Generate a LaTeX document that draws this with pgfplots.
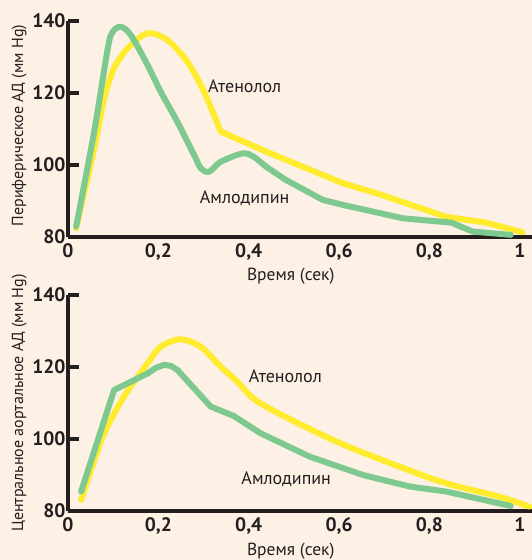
\documentclass[border=0pt]{standalone}
\usepackage{fontspec}
\setmainfont{PT Sans}
\usepackage{pgfplots}
\pgfplotsset{compat=1.18}
\definecolor{bg}{RGB}{253,240,228}
\definecolor{atn}{RGB}{255,236,46}
\definecolor{aml}{RGB}{125,201,143}
\definecolor{ink}{RGB}{35,31,32}

\pgfplotsset{panel/.style={
    scale only axis, width=464pt, height=216pt,
    xmin=0, xmax=1.027, ymin=80, ymax=140,
    axis lines*=left,
    axis line style={ink, line width=3.8pt},
    clip=false,
    xtick={0,0.2,0.4,0.6,0.8,1},
    xticklabels={0,{0,2},{0,4},{0,6},{0,8},1},
    ytick={80,100,120,140},
    tick align=inside, major tick length=11pt,
    ytick style={ink, line width=3.5pt},
    xtick style={draw=none},
    tick label style={ink, font=\bfseries\fontsize{19.5}{21}\selectfont},
    xticklabel style={yshift=-3pt},
    yticklabel style={xshift=1pt},
    /pgf/number format/assume math mode=true,
    xlabel style={ink, font=\fontsize{17.5}{19}\selectfont},
    ylabel style={ink, font=\fontsize{16}{18}\selectfont},
    every axis plot/.append style={line width=6pt, line join=round, line cap=round, no markers},
}}
\newcommand{\curvelabel}{\fontsize{18}{20}\selectfont}

\begin{document}
\begin{tikzpicture}
\fill[bg] (0,0) rectangle (532pt,560pt);
\path[use as bounding box] (0,0) rectangle (532pt,560pt);

% periferal
\begin{axis}[panel, at={(68pt,323pt)}, anchor=south west,
    xlabel={Время (сек)},
    xlabel style={at={(axis description cs:0.48,-0.18)}, anchor=center},
    ylabel={Периферическое АД (мм Hg)},
    ylabel style={at={(axis description cs:-0.105,0.516)}, anchor=center}]
% Atenolol
\addplot[atn, smooth, tension=0.5] coordinates {
 (0.018,82.4) (0.058,104.6) (0.080,118.5) (0.102,126.9) (0.132,132.4)
 (0.176,136.6) (0.220,134.7) (0.264,128.7) (0.301,120.4) (0.338,109.3)};
\addplot[atn] coordinates {
 (0.338,109.3) (0.439,103.7) (0.609,94.9) (0.689,91.9) (0.837,85.6)
 (0.925,84.0) (1.006,81.3)};
% Amlodipine
\addplot[aml, smooth, tension=0.5] coordinates {
 (0.018,82.9) (0.058,109.3) (0.088,132.4) (0.099,137.0) (0.117,138.4)
 (0.139,136.1) (0.176,127.8) (0.205,120.4) (0.242,112.0) (0.279,102.8)
 (0.294,99.1) (0.312,98.1) (0.338,100.9) (0.386,103.2) (0.411,102.3)
 (0.439,99.5) (0.483,95.8)};
\addplot[aml] coordinates {
 (0.483,95.8) (0.564,90.3) (0.609,88.9) (0.741,85.2) (0.848,84.0)
 (0.896,81.5) (0.980,80.6)};
\node[ink, font=\curvelabel] at (axis cs:0.391,121.9) {Атенолол};
\node[ink, font=\curvelabel] at (axis cs:0.391,90.8) {Амлодипин};
\end{axis}

% central aortic
\begin{axis}[panel, at={(68pt,49pt)}, anchor=south west,
    xlabel={Время (сек)},
    xlabel style={at={(axis description cs:0.48,-0.185)}, anchor=center},
    ylabel={Центральное аортальное АД (мм Hg)},
    ylabel style={at={(axis description cs:-0.105,0.5)}, anchor=center}]
% Atenolol
\addplot[atn, smooth, tension=0.5] coordinates {
 (0.029,83.1) (0.051,91.4) (0.080,101.6) (0.124,111.8) (0.176,121.0)
 (0.205,125.6) (0.249,127.7) (0.294,125.6) (0.338,120.1) (0.375,115.9)
 (0.426,109.9) (0.587,99.7) (0.734,92.3) (0.837,87.7) (0.954,84.0)
 (1.021,81.2)};
% Amlodipine
\addplot[aml] coordinates {
 (0.029,85.4) (0.102,113.6) (0.176,118.2) (0.195,119.8) (0.213,120.6)
 (0.228,120.3) (0.242,119.2) (0.316,109.0) (0.367,106.4) (0.426,101.6)
 (0.535,95.1) (0.653,90.0) (0.756,86.8) (0.837,85.4) (0.980,81.4)};
\node[ink, font=\curvelabel] at (axis cs:0.481,117.5) {Атенолол};
\node[ink, font=\curvelabel] at (axis cs:0.483,88.9) {Амлодипин};
\end{axis}
\end{tikzpicture}
\end{document}
